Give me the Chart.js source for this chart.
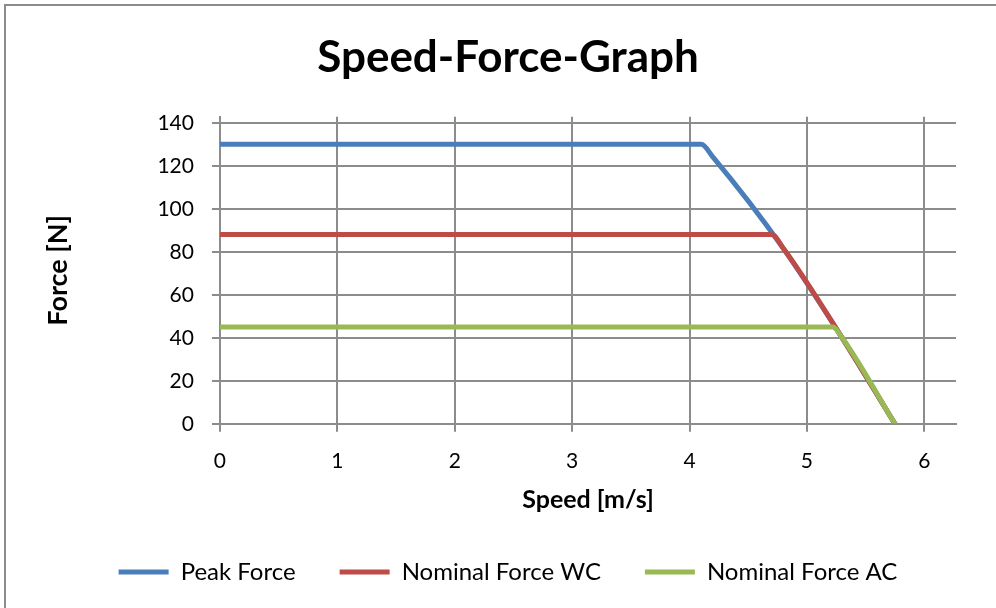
<!DOCTYPE html>
<html>
<head>
<meta charset="utf-8">
<script src="https://cdn.jsdelivr.net/npm/chart.js@4"></script>
<style>
  html, body { margin: 0; padding: 0; background: #fff; overflow: hidden; }
  #wrap { position: relative; width: 1016px; height: 630px; }
  #frame { position: absolute; left: 4px; top: 4px; right: -10px; bottom: -10px;
           border-left: 2px solid #8c8c8c; border-top: 2px solid #8c8c8c; pointer-events: none; }
</style>
</head>
<body>
<div id="wrap">
  <canvas id="speedForceChart"></canvas>
  <div id="frame"></div>
</div>
<script>
// values
const peakSpeed = [0, 4.1, 4.2, 4.8, 5.3, 5.75];
const peakForce = [130, 130, 124, 81.5, 40, 0];
const wcSpeed = [0, 4.7, 4.8, 5.3, 5.75];
const wcForce = [88, 88, 81.5, 40, 0];
const acSpeed = [0, 5.22, 5.3, 5.75];
const acForce = [45, 45, 40, 0];

const xTicks = [0, 1, 2, 3, 4, 5, 6];
const yTicks = [0, 20, 40, 60, 80, 100, 120, 140];

function toPoints(xs, ys) {
    return xs.map((x, i) => ({ x: x, y: ys[i] }));
}

const gridColor = "#8c8c8c";
const fontFamily = "Lato, 'Noto Sans', sans-serif";

// order: later series are painted on top, like in the original
function makeSet(label, xs, ys, color, order) {
    return {
        label: label,
        data: toPoints(xs, ys),
        borderColor: color,
        backgroundColor: color,
        borderWidth: 5,
        pointRadius: 0,
        cubicInterpolationMode: "monotone",
        borderCapStyle: "round",
        borderJoinStyle: "round",
        fill: false,
        order: order,
    };
}

const ctx = document.getElementById("speedForceChart").getContext("2d");
new Chart(ctx, {
    type: "scatter",
    data: {
        datasets: [
            makeSet("Peak Force", peakSpeed, peakForce, "#4a7ebb", 2),
            makeSet("Nominal Force WC", wcSpeed, wcForce, "#be4b48", 1),
            makeSet("Nominal Force AC", acSpeed, acForce, "#98b954", 0),
        ],
    },
    options: {
        responsive: true,
        maintainAspectRatio: false,
        animation: false,
        showLine: true,
        layout: { padding: { top: 0, left: 60, right: 60, bottom: 36 } },
        plugins: {
            title: {
                display: true,
                text: "Speed-Force-Graph",
                color: "#000",
                font: { family: fontFamily, size: 44, weight: "bold" },
                padding: { top: 31, bottom: 33 },
            },
            legend: {
                display: true,
                position: "bottom",
                labels: {
                    color: "#000",
                    font: { family: fontFamily, size: 24 },
                    boxWidth: 50,
                    boxHeight: 5,
                    padding: 44,
                    generateLabels: (chart) =>
                        Chart.defaults.plugins.legend.labels.generateLabels(chart)
                            .map((l) => ({ ...l, lineWidth: 0 })),
                    sort: (a, b) => a.datasetIndex - b.datasetIndex,
                },
            },
            tooltip: { enabled: false },
        },
        scales: {
            x: {
                type: "linear",
                min: 0,
                max: 6.27,
                afterBuildTicks: (axis) => {
                    axis.ticks = xTicks.map((v) => ({ value: v }));
                },
                grid: { color: gridColor, lineWidth: 2, tickLength: 8 },
                border: { color: gridColor, width: 2 },
                ticks: {
                    color: "#000",
                    padding: 17,
                    font: { family: fontFamily, size: 21 },
                },
                title: {
                    display: true,
                    text: "Speed [m/s]",
                    color: "#000",
                    font: { family: fontFamily, size: 25, weight: "bold" },
                    padding: { top: -6, bottom: 1 },
                },
            },
            y: {
                type: "linear",
                min: 0,
                max: 142.8,
                afterBuildTicks: (axis) => {
                    axis.ticks = yTicks.map((v) => ({ value: v }));
                },
                grid: { color: gridColor, lineWidth: 2, tickLength: 8 },
                border: { color: gridColor, width: 2 },
                ticks: {
                    color: "#000",
                    padding: 18,
                    font: { family: fontFamily, size: 21 },
                },
                title: {
                    display: true,
                    text: "Force [N]",
                    color: "#000",
                    font: { family: fontFamily, size: 27, weight: "bold" },
                    padding: { top: -18, bottom: 65 },
                },
            },
        },
    },
});
</script>
</body>
</html>
